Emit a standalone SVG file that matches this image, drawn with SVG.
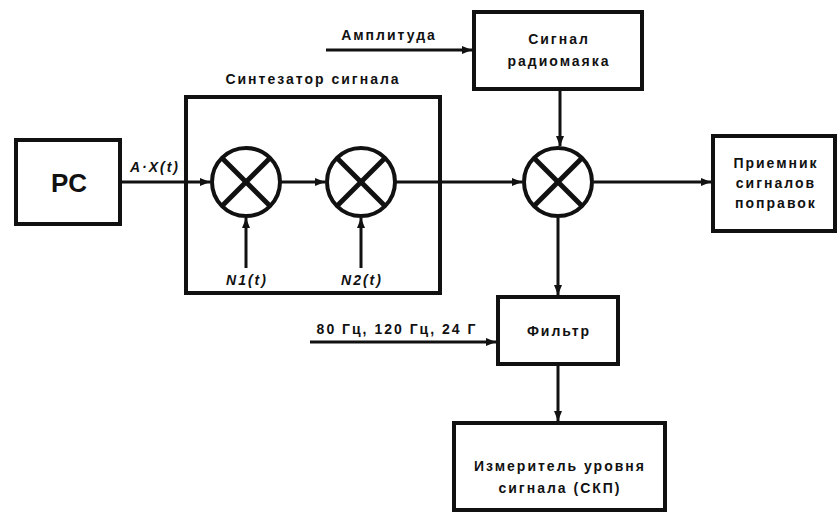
<svg xmlns="http://www.w3.org/2000/svg" width="838" height="512" viewBox="0 0 838 512">
<defs>
<marker id="ah" viewBox="0 0 10 8" refX="10" refY="4" markerWidth="10" markerHeight="8" markerUnits="userSpaceOnUse" orient="auto">
<path d="M0,0 L10,4 L0,8 Z" fill="#111"/>
</marker>
<g id="mix">
<circle cx="0" cy="0" r="34" fill="#fff" stroke="#111" stroke-width="4"/>
<line x1="-24" y1="-24" x2="24" y2="24" stroke="#111" stroke-width="5"/>
<line x1="24" y1="-24" x2="-24" y2="24" stroke="#111" stroke-width="5"/>
</g>
</defs>
<style>
.box{fill:#fff;stroke:#111;stroke-width:4}
.ln{fill:none;stroke:#111;stroke-width:3}
.t{font-family:"Liberation Sans",Arial,sans-serif;font-size:14px;font-weight:bold;fill:#111;text-anchor:middle;letter-spacing:2px}
.i{font-style:italic}
</style>
<rect width="838" height="512" fill="#fff"/>
<g id="connectors">
<line class="ln" x1="121" y1="182" x2="210" y2="182" marker-end="url(#ah)"/>
<line class="ln" x1="281" y1="182" x2="325" y2="182" marker-end="url(#ah)"/>
<line class="ln" x1="396" y1="182" x2="522" y2="182" marker-end="url(#ah)"/>
<line class="ln" x1="594" y1="182" x2="711" y2="182" marker-end="url(#ah)"/>
<line class="ln" x1="246" y1="268" x2="246" y2="218" marker-end="url(#ah)"/>
<line class="ln" x1="361" y1="268" x2="361" y2="218" marker-end="url(#ah)"/>
<line class="ln" x1="326" y1="50" x2="472" y2="50" marker-end="url(#ah)"/>
<line class="ln" x1="560" y1="89" x2="560" y2="146" marker-end="url(#ah)"/>
<line class="ln" x1="558" y1="218" x2="558" y2="295" marker-end="url(#ah)"/>
<line class="ln" x1="310" y1="342" x2="496" y2="342" marker-end="url(#ah)"/>
<line class="ln" x1="558" y1="364" x2="558" y2="421" marker-end="url(#ah)"/>
</g>
<g id="synth">
<rect class="box" x="186" y="97" width="254" height="196" style="fill:none"/>
<text class="t" x="313" y="84">Синтезатор сигнала</text>
</g>
<g id="pc">
<rect class="box" x="16" y="140" width="104" height="84"/>
<text class="t" x="69" y="192" style="font-size:26px;letter-spacing:0">PC</text>
</g>
<text class="t i" x="155" y="172">A·X(t)</text>
<g id="mixer1"><use href="#mix" x="246" y="182"/></g>
<g id="mixer2"><use href="#mix" x="361" y="182"/></g>
<g id="mixer3"><use href="#mix" x="558" y="182"/></g>
<text class="t i" x="247" y="285">N1(t)</text>
<text class="t i" x="362" y="285">N2(t)</text>
<text class="t" x="389" y="40">Амплитуда</text>
<g id="beacon">
<rect class="box" x="474" y="12" width="168" height="77"/>
<text class="t" x="559" y="44">Сигнал</text>
<text class="t" x="559" y="66">радиомаяка</text>
</g>
<g id="receiver">
<rect class="box" x="713" y="136" width="122" height="95"/>
<text class="t" x="776" y="168">Приемник</text>
<text class="t" x="776" y="188">сигналов</text>
<text class="t" x="776" y="208">поправок</text>
</g>
<text class="t" x="397" y="334">80 Гц, 120 Гц, 24 Г</text>
<g id="filter">
<rect class="box" x="498" y="297" width="120" height="67"/>
<text class="t" x="559" y="336">Фильтр</text>
</g>
<g id="meter">
<rect class="box" x="454" y="423" width="211" height="87"/>
<text class="t" x="560" y="471">Измеритель уровня</text>
<text class="t" x="560" y="493">сигнала (СКП)</text>
</g>
</svg>
